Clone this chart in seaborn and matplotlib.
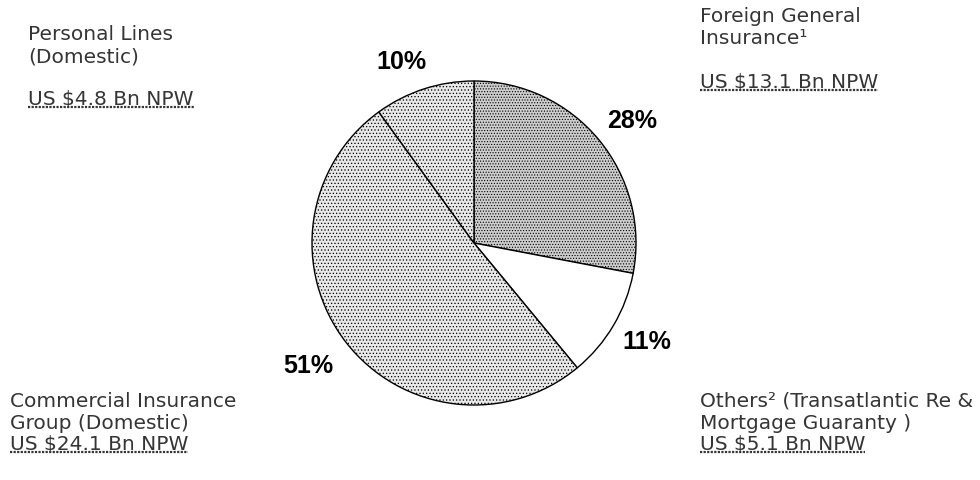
import matplotlib
matplotlib.use("Agg")
import matplotlib.pyplot as plt
import seaborn as sns

segments = ["Foreign General\nInsurance\u00b9",
            "Others\u00b2 (Transatlantic Re &\nMortgage Guaranty )",
            "Commercial Insurance\nGroup (Domestic)",
            "Personal Lines\n(Domestic)"]
shares = [28, 11, 51, 10]
npw = ["US $13.1 Bn NPW", "US $5.1 Bn NPW", "US $24.1 Bn NPW", "US $4.8 Bn NPW"]

sns.set_theme(style="white")
plt.rcParams['font.family'] = ['DejaVu Sans']
plt.rcParams['hatch.color'] = "#8f8f8f"
plt.rcParams['hatch.linewidth'] = 0.5

W, H = 980, 481
fig = plt.figure(figsize=(9.8, 4.81), dpi=100)
ax = fig.add_axes([0, 0, 1, 1])

face = ["#cdcdcd", "#ffffff", "#e8e8e8", "#e8e8e8"]
hatches = ["......", "", ".....", "....."]
wedges, _ = ax.pie(shares, startangle=90, counterclock=False,
                   center=(474, H - 244), radius=162, colors=face,
                   wedgeprops=dict(edgecolor="black", linewidth=1.0))
for w, h in zip(wedges, hatches):
    if h:
        w.set_hatch(h)

ax.set_xlim(0, W)
ax.set_ylim(0, H)
ax.set_aspect("equal")
ax.axis("off")

# percentage labels
pct_pos = [(632, 121), (647, 342), (308, 366), (401, 62)]
for s, (x, y) in zip(shares, pct_pos):
    ax.text(x, H - y, f"{s}%", ha="center", va="center",
            fontsize=18, fontweight="bold", color="black",
            family=['Liberation Sans', 'DejaVu Sans'])

# segment labels: (x, top of name, top of NPW line)
lab_pos = [(700, 7, 73), (700, 392, 435), (10, 392, 435), (28, 25, 90)]
txtcol = "#353535"
renderer = fig.canvas.get_renderer()
for name, val, (x, y, y2) in zip(segments, npw, lab_pos):
    ax.text(x, H - y, name, ha="left", va="top", fontsize=14.5,
            color=txtcol, linespacing=1.22)
    t = ax.text(x, H - y2, val, ha="left", va="top", fontsize=14.5,
                color=txtcol)
    bb = t.get_window_extent(renderer=renderer)
    ax.plot([bb.x0, bb.x1], [bb.y0 + 1, bb.y0 + 1], color=txtcol,
            linewidth=1.6, linestyle=(0, (1, 0.6)))

fig.savefig("out.png", dpi=100)
